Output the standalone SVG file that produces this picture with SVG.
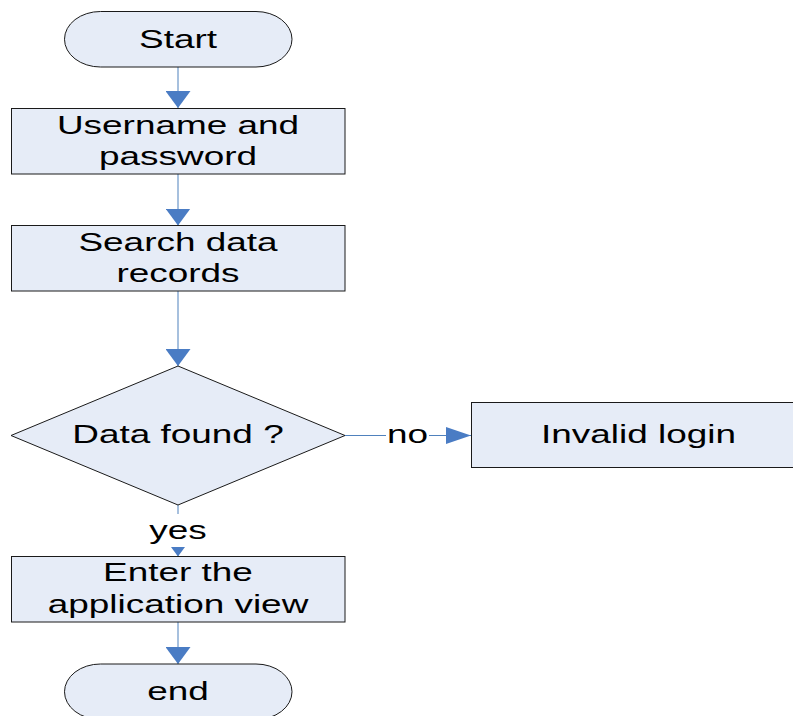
<svg xmlns="http://www.w3.org/2000/svg" width="793" height="716" viewBox="0 0 793 716">
  <defs>
    <style>
      .shape { fill: #E6ECF7; stroke: #1a1a1a; stroke-width: 1; }
      .label { font-family: "Liberation Sans", Arial, sans-serif; font-size: 26px; fill: #000; text-anchor: middle; }
      .edge { stroke: #4F81BD; stroke-width: 1; fill: none; }
      .tag-bg { fill: #ffffff; stroke: none; }
    </style>
    <!-- arrowheads: wide for vertical runs, long for horizontal runs -->
    <marker id="arrowV" markerUnits="userSpaceOnUse" markerWidth="17" markerHeight="25" refX="17" refY="12.5" orient="auto">
      <path d="M0,0 L17,12.5 L0,25 Z" fill="#4A7CC4"/>
    </marker>
    <marker id="arrowH" markerUnits="userSpaceOnUse" markerWidth="25" markerHeight="17" refX="25" refY="8.5" orient="auto">
      <path d="M0,0 L25,8.5 L0,17 Z" fill="#4A7CC4"/>
    </marker>
  </defs>

  <rect width="793" height="716" fill="#ffffff"/>

  <!-- connectors -->
  <g id="connectors">
    <line class="edge" x1="178" y1="67" x2="178" y2="108" marker-end="url(#arrowV)"/>
    <line class="edge" x1="178" y1="174" x2="178" y2="225.5" marker-end="url(#arrowV)"/>
    <line class="edge" x1="178" y1="291" x2="178" y2="366" marker-end="url(#arrowV)"/>
    <line class="edge" x1="178" y1="505" x2="178" y2="556.5" marker-end="url(#arrowV)"/>
    <line class="edge" x1="178" y1="622" x2="178" y2="664" marker-end="url(#arrowV)"/>
    <line class="edge" x1="345" y1="435.5" x2="471" y2="435.5" marker-end="url(#arrowH)"/>
    <!-- branch labels -->
    <rect class="tag-bg" x="147" y="514" width="62" height="33"/>
    <text class="label" transform="translate(178,539) scale(1.42,1)">yes</text>
    <rect class="tag-bg" x="386" y="422" width="43" height="26"/>
    <text class="label" transform="translate(407.5,443.3) scale(1.42,1)">no</text>
  </g>

  <g id="start">
    <rect class="shape" x="64.5" y="11.5" width="227.5" height="55.5" rx="36" ry="27.75"/>
    <text class="label" transform="translate(178,48) scale(1.42,1)">Start</text>
  </g>

  <g id="credentials">
    <rect class="shape" x="11.5" y="108.5" width="333.5" height="65.5"/>
    <text class="label" transform="translate(178,133.5) scale(1.42,1)">Username and</text>
    <text class="label" transform="translate(178,165) scale(1.42,1)">password</text>
  </g>

  <g id="search">
    <rect class="shape" x="11.5" y="225.5" width="333.5" height="65.5"/>
    <text class="label" transform="translate(178,251) scale(1.42,1)">Search data</text>
    <text class="label" transform="translate(178,282) scale(1.42,1)">records</text>
  </g>

  <g id="decision">
    <polygon class="shape" points="178,366 345,435.5 178,505 11,435.5"/>
    <text class="label" transform="translate(178,443) scale(1.42,1)">Data found ?</text>
  </g>

  <g id="invalid">
    <rect class="shape" x="471.5" y="402.5" width="340" height="65"/>
    <text class="label" transform="translate(638.5,443.3) scale(1.42,1)">Invalid login</text>
  </g>

  <g id="enter">
    <rect class="shape" x="11.5" y="556.5" width="333.5" height="65.5"/>
    <text class="label" transform="translate(178,581) scale(1.42,1)">Enter the</text>
    <text class="label" transform="translate(178,612.5) scale(1.42,1)">application view</text>
  </g>

  <g id="end">
    <rect class="shape" x="64.5" y="664" width="227.5" height="55.5" rx="36" ry="27.75"/>
    <text class="label" transform="translate(178,700) scale(1.42,1)">end</text>
  </g>
</svg>
